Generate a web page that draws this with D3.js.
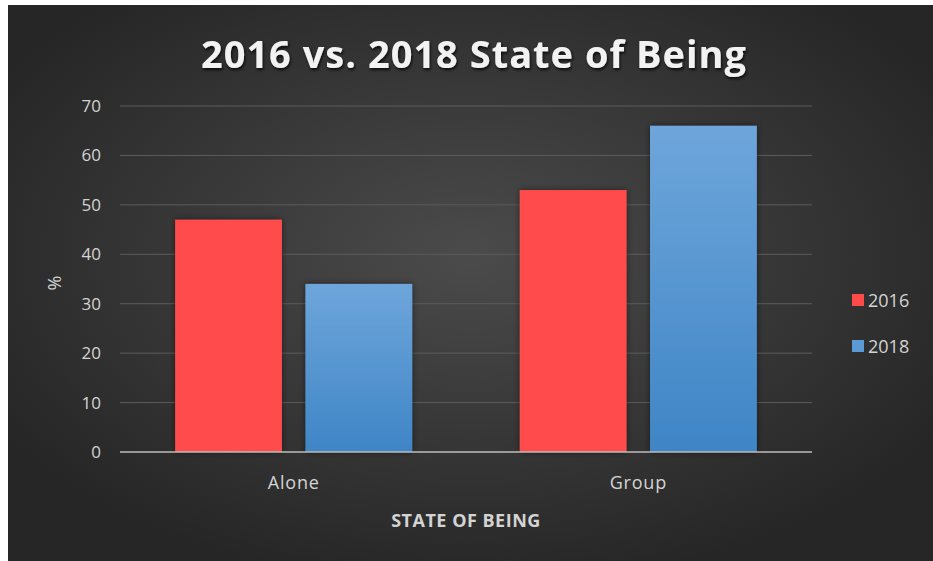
<!DOCTYPE html>
<html>
<head>
<meta charset="utf-8">
<script src="https://cdn.jsdelivr.net/npm/d3@7"></script>
<style>
  body { margin: 0; background: #fff; }
  svg { display: block; }
</style>
</head>
<body>
<svg id="canvas" width="933" height="561"></svg>
<script>
// chart data
const categories = ["Alone", "Group"]
const years = ["2016", "2018"]
const values2016 = [47, 53]
const values2018 = [34, 66]
const yTicks = [0, 10, 20, 30, 40, 50, 60, 70]

const w = 933, h = 561
const svg = d3.select("#canvas")
const defs = svg.append("defs")

// background radial gradient
const bg = defs.append("radialGradient").attr("id", "bg")
  .attr("cx", "50%").attr("cy", "45%").attr("r", "60%")
bg.append("stop").attr("offset", "0%").attr("stop-color", "#4b4b4b")
bg.append("stop").attr("offset", "100%").attr("stop-color", "#262626")

const blue = defs.append("linearGradient").attr("id", "blueGrad")
  .attr("x1", 0).attr("y1", 0).attr("x2", 0).attr("y2", 1)
blue.append("stop").attr("offset", "0%").attr("stop-color", "#6ea6db")
blue.append("stop").attr("offset", "100%").attr("stop-color", "#3f85c6")

const shadow = defs.append("filter").attr("id", "shadow")
  .attr("x", "-20%").attr("y", "-20%").attr("width", "140%").attr("height", "140%")
shadow.append("feDropShadow").attr("dx", 0).attr("dy", 0).attr("stdDeviation", 3)
  .attr("flood-color", "#000").attr("flood-opacity", 0.5)

const tshadow = defs.append("filter").attr("id", "tshadow")
tshadow.append("feDropShadow").attr("dx", 1).attr("dy", 2).attr("stdDeviation", 1.5)
  .attr("flood-color", "#000").attr("flood-opacity", 0.8)

svg.append("rect").attr("x", 8).attr("y", 5).attr("width", w - 8).attr("height", h - 5)
  .attr("fill", "url(#bg)")

const font = "'Open Sans', 'Liberation Sans', sans-serif"
const textCol = "#d4d4d4"

// title
svg.append("text")
  .attr("x", 474).attr("y", 68)
  .attr("text-anchor", "middle")
  .attr("font-family", font)
  .attr("font-weight", "bold")
  .style("font-size", "38px")
  .style("letter-spacing", "1px")
  .attr("fill", "#f2f2f2")
  .attr("filter", "url(#tshadow)")
  .text("2016 vs. 2018 State of Being")

const plot = {left: 120, right: 812, top: 106, bottom: 452}

const x0 = d3.scaleBand().domain(categories)
  .range([plot.left, plot.right]).paddingInner(0.312).paddingOuter(0.16)
const x1 = d3.scaleBand().domain(years)
  .range([0, x0.bandwidth()]).paddingInner(0.18)
const y = d3.scaleLinear().domain([0, 70]).range([plot.bottom, plot.top])

// gridlines
svg.append("g").selectAll("line").data(yTicks.slice(1)).join("line")
  .attr("x1", plot.left).attr("x2", plot.right)
  .attr("y1", d => y(d)).attr("y2", d => y(d))
  .attr("stroke", "#5c5c5c").attr("stroke-width", 1)

// y axis
const yAxis = svg.append("g")
  .attr("transform", `translate(${plot.left - 10},0)`)
  .call(d3.axisLeft(y).tickValues(yTicks).tickSize(0).tickPadding(9))
yAxis.select(".domain").remove()
yAxis.selectAll("text")
  .attr("font-family", font).style("font-size", "17px").attr("fill", textCol)

// bars
const rows = categories.map((c, i) => ({cat: c, vals: [values2016[i], values2018[i]]}))
const fills = {"2016": "#ff4b4b", "2018": "url(#blueGrad)"}
svg.append("g").selectAll("g").data(rows).join("g")
  .attr("transform", d => `translate(${x0(d.cat)},0)`)
  .selectAll("rect").data(d => years.map((yr, j) => ({yr: yr, v: d.vals[j]}))).join("rect")
  .attr("x", d => x1(d.yr))
  .attr("y", d => y(d.v))
  .attr("width", x1.bandwidth())
  .attr("height", d => y(0) - y(d.v))
  .attr("fill", d => fills[d.yr])
  .attr("filter", "url(#shadow)")

// x axis
const xAxis = svg.append("g")
  .attr("transform", `translate(0,${plot.bottom})`)
  .call(d3.axisBottom(x0).tickSize(0).tickPadding(24))
xAxis.select(".domain").attr("stroke", "#bdbdbd").attr("stroke-width", 1.5)
  .attr("d", `M${plot.left},0H${plot.right}`)
xAxis.selectAll("text")
  .attr("font-family", font).style("font-size", "18px")
  .style("letter-spacing", "0.8px").attr("fill", textCol)

// axis titles
svg.append("text")
  .attr("x", 466).attr("y", 527)
  .attr("text-anchor", "middle")
  .attr("font-family", font).attr("font-weight", "bold")
  .style("font-size", "18px").style("letter-spacing", "0.5px").attr("fill", textCol)
  .text("STATE OF BEING")

svg.append("text")
  .attr("transform", "translate(61,283) rotate(-90)")
  .attr("text-anchor", "middle")
  .attr("font-family", font)
  .style("font-size", "18px").attr("fill", textCol)
  .text("%")

// legend
const legendColors = ["#ff4b4b", "#5b9bd5"]
const legend = svg.append("g").selectAll("g").data(years).join("g")
  .attr("transform", (d, i) => `translate(852,${294 + i * 46})`)
legend.append("rect").attr("width", 12).attr("height", 12)
  .attr("fill", (d, i) => legendColors[i])
legend.append("text").attr("x", 16).attr("y", 13)
  .attr("font-family", font).style("font-size", "18px").attr("fill", textCol)
  .text(d => d)
</script>
</body>
</html>
